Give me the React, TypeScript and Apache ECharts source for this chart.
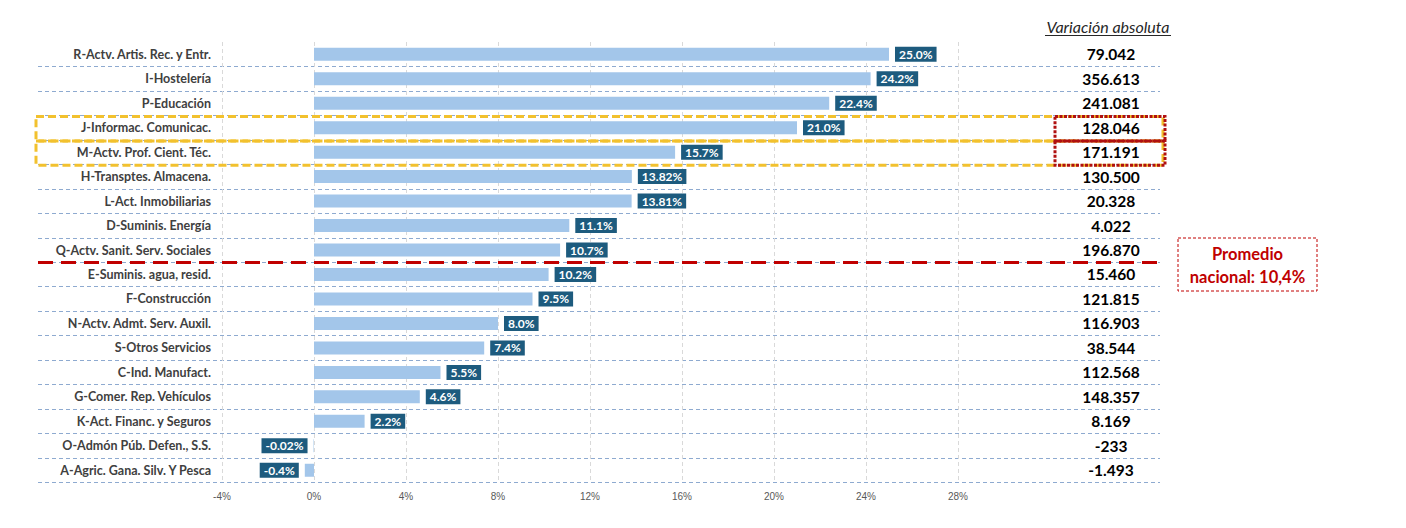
import React, { useEffect, useRef } from "react";
import * as echarts from "echarts";

const categories = [
  "R-Actv. Artis. Rec. y Entr.",
  "I-Hostelería",
  "P-Educación",
  "J-Informac. Comunicac.",
  "M-Actv. Prof. Cient. Téc.",
  "H-Transptes. Almacena.",
  "L-Act. Inmobiliarias",
  "D-Suminis. Energía",
  "Q-Actv. Sanit. Serv. Sociales",
  "E-Suminis. agua, resid.",
  "F-Construcción",
  "N-Actv. Admt. Serv. Auxil.",
  "S-Otros Servicios",
  "C-Ind. Manufact.",
  "G-Comer. Rep. Vehículos",
  "K-Act. Financ. y Seguros",
  "O-Admón Púb. Defen., S.S.",
  "A-Agric. Gana. Silv. Y Pesca",
];

const growth = [25.0, 24.2, 22.4, 21.0, 15.7, 13.82, 13.81, 11.1, 10.7, 10.2, 9.5, 8.0, 7.4, 5.5, 4.6, 2.2, -0.02, -0.4];
const growthLabels = ["25.0%", "24.2%", "22.4%", "21.0%", "15.7%", "13.82%", "13.81%", "11.1%", "10.7%", "10.2%", "9.5%", "8.0%", "7.4%", "5.5%", "4.6%", "2.2%", "-0.02%", "-0.4%"];
const absChange = ["79.042", "356.613", "241.081", "128.046", "171.191", "130.500", "20.328", "4.022", "196.870", "15.460", "121.815", "116.903", "38.544", "112.568", "148.357", "8.169", "-233", "-1.493"];

const xMin = -4;
const xMax = 28;
const xInterval = 4;
const highlightedRows = [3, 4];
const averageAfterRow = 9; // boundary between Q and E rows
const averageText = "Promedio\nnacional: 10,4%";
const columnTitle = "Variación absoluta";

// Layout
const W = 1406;
const H = 528;
const PLOT_TOP = 42;
const PLOT_BOTTOM_Y = 482.5;
const PLOT_LEFT = 222;
const PLOT_RIGHT_X = 958;
const SEP_LEFT = 38;
const SEP_RIGHT_X = 1160;
const ROW_H = (PLOT_BOTTOM_Y - PLOT_TOP) / categories.length;
const FONT = "Lato, 'Open Sans', sans-serif";

export default function App() {
  const ref = useRef<HTMLDivElement>(null);

  useEffect(() => {
    if (!ref.current) return;
    const chart = echarts.init(ref.current, undefined, { renderer: "svg" });

    const barData = growth.map((v, i) => ({
      value: v,
      label: { position: v < 0 ? "left" : "right" },
    }));

    const rowTop = (i: number) => PLOT_TOP + i * ROW_H;

    const graphics: any[] = [];
    // Column title
    graphics.push({
      type: "text",
      x: 1108,
      y: 26,
      style: {
        text: columnTitle,
        fontFamily: FONT,
        fontStyle: "italic",
        fontSize: 16,
        fill: "#262626",
        align: "center",
        verticalAlign: "middle",
      },
      z: 10,
    });
    graphics.push({
      type: "line",
      shape: { x1: 1045, y1: 35.5, x2: 1171, y2: 35.5 },
      style: { stroke: "#262626", lineWidth: 1 },
      z: 10,
    });
    // Highlight boxes (yellow) and value boxes (red dotted)
    highlightedRows.forEach((r) => {
      graphics.push({
        type: "rect",
        shape: { x: 36, y: rowTop(r) + 1, width: 1127, height: ROW_H },
        style: { fill: "none", stroke: "#f2c12e", lineWidth: 3, lineDash: [8, 4] },
        z: 20,
      });
    });
    highlightedRows.forEach((r) => {
      graphics.push({
        type: "rect",
        shape: { x: 1055, y: rowTop(r) + 1, width: 110, height: ROW_H },
        style: { fill: "none", stroke: "#b01010", lineWidth: 3, lineDash: [3, 1.5] },
        z: 21,
      });
    });
    // Average annotation box
    graphics.push({
      type: "rect",
      shape: { x: 1178, y: 238, width: 139, height: 53 },
      style: { fill: "#fff", stroke: "#c00000", lineWidth: 1, lineDash: [3, 2] },
      z: 10,
    });
    graphics.push({
      type: "text",
      x: 1247.5,
      y: 265,
      style: {
        text: averageText,
        fontFamily: FONT,
        fontWeight: "bold",
        fontSize: 16.5,
        lineHeight: 23,
        fill: "#c00000",
        align: "center",
        verticalAlign: "middle",
      },
      z: 11,
    });

    chart.setOption({
      animation: false,
      backgroundColor: "#fff",
      grid: [
        { left: PLOT_LEFT, right: W - PLOT_RIGHT_X, top: PLOT_TOP, bottom: H - PLOT_BOTTOM_Y },
        { left: SEP_LEFT, right: W - SEP_RIGHT_X, top: PLOT_TOP + ROW_H, bottom: H - PLOT_BOTTOM_Y },
      ],
      xAxis: [
        {
          type: "value",
          gridIndex: 0,
          min: xMin,
          max: xMax,
          interval: xInterval,
          axisLine: { show: false },
          axisTick: { show: false },
          axisLabel: {
            formatter: "{value}%",
            color: "#595959",
            fontSize: 10,
            fontFamily: "'Liberation Sans Narrow', 'Liberation Sans', sans-serif",
            margin: 9,
          },
          splitLine: { show: true, lineStyle: { color: "#d9d9d9", type: [4, 3], width: 1 } },
        },
        {
          type: "value",
          gridIndex: 1,
          min: 0,
          max: 1,
          show: false,
          splitLine: { show: false },
        },
      ],
      yAxis: [
        {
          type: "category",
          gridIndex: 0,
          data: categories,
          inverse: true,
          axisLine: { show: false },
          axisTick: { show: false },
          splitLine: { show: false },
          axisLabel: {
            color: "#404040",
            fontWeight: "bold",
            fontSize: 12.5,
            fontFamily: FONT,
            margin: 11,
          },
        },
        {
          type: "category",
          gridIndex: 0,
          data: absChange,
          inverse: true,
          position: "right",
          axisLine: { show: false },
          axisTick: { show: false },
          splitLine: { show: false },
          axisLabel: {
            color: "#000",
            fontWeight: "bold",
            fontSize: 15.5,
            fontFamily: FONT,
            align: "center",
            margin: 153,
            padding: [3, 0, 0, 0],
          },
        },
        {
          type: "value",
          gridIndex: 1,
          min: 1,
          max: categories.length,
          interval: 1,
          inverse: true,
          axisLine: { show: false },
          axisTick: { show: false },
          axisLabel: { show: false },
          splitLine: { show: true, lineStyle: { color: "#8eaad0", type: [4, 3], width: 1 } },
        },
      ],
      series: [
        {
          type: "bar",
          xAxisIndex: 0,
          yAxisIndex: 0,
          data: barData,
          barWidth: 13,
          itemStyle: { color: "#a3c6ea" },
          label: {
            show: true,
            distance: 6,
            formatter: (p: any) => growthLabels[p.dataIndex],
            backgroundColor: "#1d5b7e",
            color: "#fff",
            fontWeight: "bold",
            fontSize: 12,
            fontFamily: FONT,
            padding: [2, 4, 1, 4],
          },
        },
        {
          type: "line",
          xAxisIndex: 1,
          yAxisIndex: 2,
          data: [],
          silent: true,
          markLine: {
            silent: true,
            symbol: ["none", "none"],
            label: { show: false },
            lineStyle: { color: "#c00000", width: 3, type: [15, 8] },
            data: [{ yAxis: averageAfterRow }],
          },
        },
      ],
      graphic: graphics,
    });

    return () => chart.dispose();
  }, []);

  return (
    <div
      ref={ref}
      style={{ position: "absolute", left: 0, top: 0, width: W, height: H, background: "#fff" }}
    />
  );
}
